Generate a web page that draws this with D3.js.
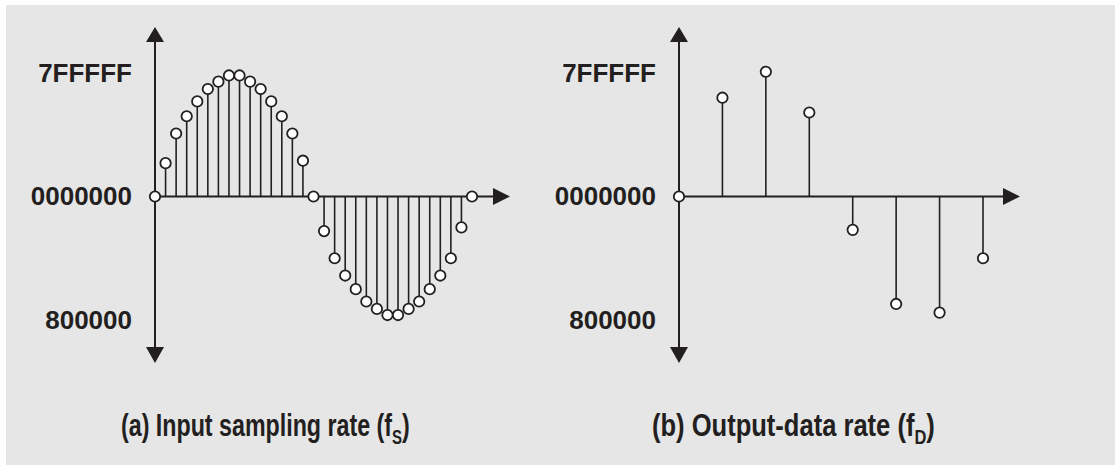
<!DOCTYPE html>
<html>
<head>
<meta charset="utf-8">
<script src="https://cdn.jsdelivr.net/npm/d3@7"></script>
<style>
  body { margin: 0; background: #fff; }
  svg { display: block; }
</style>
</head>
<body>
<div id="chart"></div>
<script>
// sample values, as a fraction of full scale (7FFFFF = 1, 800000 = -1)
const inputSamples = [0, 0.27, 0.51, 0.65, 0.77, 0.87, 0.93, 0.98, 0.98, 0.93, 0.87, 0.77, 0.65, 0.51, 0.29,
  0, -0.28, -0.50, -0.64, -0.75, -0.85, -0.91, -0.96, -0.96, -0.91, -0.85, -0.75, -0.64, -0.50, -0.25, 0];
const outputSamples = [0, 0.80, 1.01, 0.68, -0.27, -0.87, -0.94, -0.50];
const tickValues = [1, 0, -1];
const tickLabels = ["7FFFFF", "0000000", "800000"];
const panelTitles = [
  { main: "(a) Input sampling rate (f", sub: "S" },
  { main: "(b) Output-data rate (f", sub: "D" }
];

const width = 1115, height = 465;
const ink = "#231f20";

const svg = d3.select("#chart").append("svg")
  .attr("width", width)
  .attr("height", height);

svg.append("rect")
  .attr("x", 6).attr("y", 5)
  .attr("width", width - 6).attr("height", height - 5)
  .attr("fill", "#e6e6e6");

const y = d3.scaleLinear().domain([-1, 1]).range([320, 73]);

const panels = [
  { data: inputSamples, x: d3.scaleLinear().domain([0, 30]).range([155, 472]), axisEnd: 510, title: panelTitles[0], titleX: 121, titleW: 289 },
  { data: outputSamples, x: d3.scaleLinear().domain([0, 7]).range([679, 983]), axisEnd: 1020, title: panelTitles[1], titleX: 652, titleW: 283 }
];

panels.forEach(p => {
  const g = svg.append("g");
  const x0 = p.x(0), y0 = y(0);

  // y axis labels
  const yAxis = d3.axisLeft(y)
    .tickValues(tickValues)
    .tickFormat((d, i) => tickLabels[i])
    .tickSize(0)
    .tickPadding(23);
  const ax = g.append("g")
    .attr("transform", `translate(${x0},0)`)
    .call(yAxis);
  ax.select(".domain").remove();
  ax.selectAll("text")
    .attr("fill", ink)
    .style("font-family", "'Liberation Sans', Arial, sans-serif")
    .style("font-weight", "bold")
    .style("font-size", "26px");

  // vertical axis with arrows
  g.append("line")
    .attr("x1", x0).attr("x2", x0)
    .attr("y1", 40).attr("y2", 350)
    .attr("stroke", ink).attr("stroke-width", 2);
  g.append("path")
    .attr("d", `M${x0},27 L${x0 - 9},42 L${x0 + 9},42 Z`)
    .attr("fill", ink);
  g.append("path")
    .attr("d", `M${x0},363 L${x0 - 9},347 L${x0 + 9},347 Z`)
    .attr("fill", ink);

  // horizontal axis with arrow
  g.append("line")
    .attr("x1", x0).attr("x2", p.axisEnd - 16)
    .attr("y1", y0).attr("y2", y0)
    .attr("stroke", ink).attr("stroke-width", 2);
  g.append("path")
    .attr("d", `M${p.axisEnd},${y0} L${p.axisEnd - 17},${y0 - 8.5} L${p.axisEnd - 17},${y0 + 8.5} Z`)
    .attr("fill", ink);

  // stems
  g.selectAll(".stem")
    .data(p.data.map((v, i) => ({ i, v })).filter(d => d.v !== 0))
    .join("line")
    .attr("class", "stem")
    .attr("x1", d => p.x(d.i)).attr("x2", d => p.x(d.i))
    .attr("y1", y0).attr("y2", d => y(d.v))
    .attr("stroke", ink).attr("stroke-width", 1.6);

  // sample points
  g.selectAll(".pt")
    .data(p.data.map((v, i) => ({ i, v })))
    .join("circle")
    .attr("class", "pt")
    .attr("cx", d => p.x(d.i))
    .attr("cy", d => y(d.v))
    .attr("r", 5.2)
    .attr("fill", "#fff")
    .attr("stroke", ink)
    .attr("stroke-width", 1.8);

  // panel caption, squeezed to the condensed width of the original
  const t = g.append("text")
    .attr("x", 0).attr("y", 0)
    .attr("fill", ink)
    .style("font-family", "'Liberation Sans', Arial, sans-serif")
    .style("font-weight", "bold")
    .style("font-size", "31px");
  t.append("tspan").text(p.title.main);
  t.append("tspan").attr("dy", 8).style("font-size", "20px").text(p.title.sub);
  t.append("tspan").attr("dy", -8).text(")");
  const w = t.node().getBBox().width;
  t.attr("transform", `translate(${p.titleX},436) scale(${p.titleW / w},1)`);
});
</script>
</body>
</html>
